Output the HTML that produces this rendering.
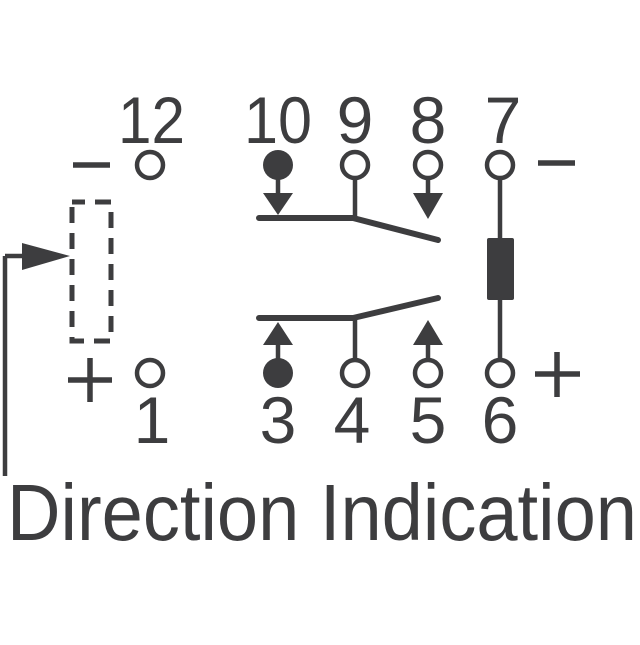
<!DOCTYPE html>
<html><head><style>html,body{margin:0;padding:0;background:#fff;}</style></head>
<body>
<svg width="640" height="640" viewBox="0 0 640 640" xmlns="http://www.w3.org/2000/svg">
<g fill="#3d3d3f" font-family="Liberation Sans, sans-serif" font-size="66">
<text x="118" y="143" textLength="67" lengthAdjust="spacingAndGlyphs">12</text>
<text x="244" y="143" textLength="68" lengthAdjust="spacingAndGlyphs">10</text>
<text x="355" y="143" text-anchor="middle">9</text>
<text x="428" y="143" text-anchor="middle">8</text>
<text x="503" y="143" text-anchor="middle">7</text>
<text x="152" y="443" text-anchor="middle">1</text>
<text x="278" y="443" text-anchor="middle">3</text>
<text x="352" y="443" text-anchor="middle">4</text>
<text x="428" y="443" text-anchor="middle">5</text>
<text x="500" y="443" text-anchor="middle">6</text>
<text x="7" y="540" font-size="80" textLength="630" lengthAdjust="spacingAndGlyphs">Direction Indication</text>
</g>
<g stroke="#3d3d3f" fill="none" stroke-width="4.5">
<circle cx="150" cy="165" r="13"/>
<circle cx="355" cy="165" r="13"/>
<circle cx="428" cy="165" r="13"/>
<circle cx="500" cy="165" r="13"/>
<circle cx="150" cy="373" r="13"/>
<circle cx="355" cy="373" r="13"/>
<circle cx="428" cy="373" r="13"/>
<circle cx="500" cy="373" r="13"/>
<line x1="278" y1="170" x2="278" y2="196"/>
<line x1="428" y1="178" x2="428" y2="196"/>
<line x1="278" y1="342" x2="278" y2="370"/>
<line x1="428" y1="342" x2="428" y2="360"/>
<line x1="355" y1="178" x2="355" y2="218"/>
<line x1="355" y1="318" x2="355" y2="360"/>
<line x1="500" y1="178" x2="500" y2="360"/>
<line x1="5" y1="476" x2="5" y2="256"/>
<line x1="5" y1="256" x2="25" y2="256"/>
</g>
<g stroke="#3d3d3f" fill="none" stroke-width="6" stroke-linecap="round" stroke-linejoin="round">
<polyline points="259,218 353,218 438,240"/>
<polyline points="259,318 353,318 438,298"/>
</g>
<g stroke="#3d3d3f" stroke-width="5.5">
<line x1="73" y1="165" x2="110" y2="165"/>
<line x1="538" y1="163" x2="575" y2="163"/>
<line x1="68" y1="380" x2="112" y2="380"/>
<line x1="90" y1="358" x2="90" y2="402"/>
<line x1="535" y1="374" x2="580" y2="374"/>
<line x1="557" y1="352" x2="557" y2="397"/>
</g>
<rect x="72" y="202" width="39" height="139" fill="none" stroke="#3d3d3f" stroke-width="5" stroke-dasharray="16,10" stroke-dashoffset="3"/>
<g fill="#3d3d3f">
<circle cx="278" cy="165" r="15"/>
<circle cx="278" cy="373" r="15"/>
<polygon points="263,193 293,193 278,215"/>
<polygon points="413,193 443,193 428,219"/>
<polygon points="263,345 293,345 278,322"/>
<polygon points="413,345 443,345 428,320"/>
<polygon points="22,243 22,270 70,256"/>
<rect x="487" y="238" width="27" height="62" rx="2"/>
</g>
</svg>
</body></html>
